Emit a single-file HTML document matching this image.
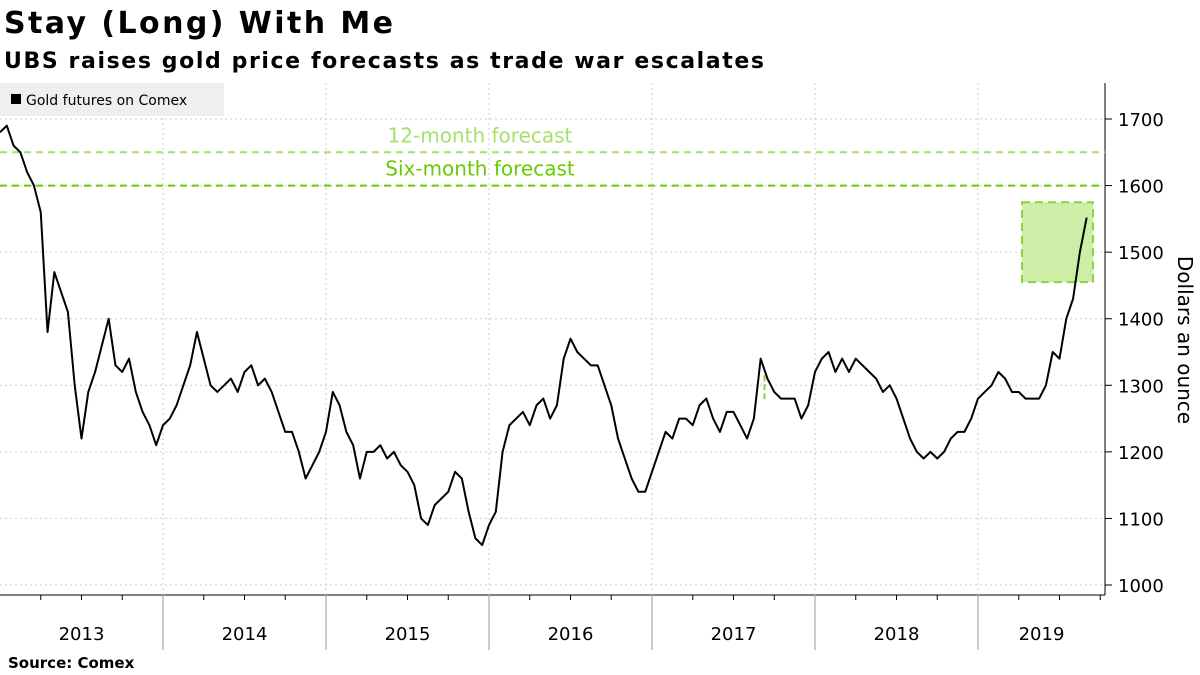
<!DOCTYPE html>
<html><head><meta charset="utf-8"><style>
body{margin:0;background:#fff;width:1200px;height:675px;overflow:hidden}
svg{display:block;font-family:"DejaVu Sans","Liberation Sans",sans-serif}
</style></head><body>
<svg id="chart" width="1200" height="675">
<text x="4" y="33" font-size="30" font-weight="bold" textLength="389">Stay (Long) With Me</text>
<text x="4" y="68" font-size="22" font-weight="bold" textLength="760">UBS raises gold price forecasts as trade war escalates</text>
<g id="grid"></g>
<rect x="0" y="83" width="224" height="33" fill="#efefef"/>
<rect x="11" y="94" width="10" height="10" fill="#000"/>
<text x="26" y="105" font-size="14">Gold futures on Comex</text>
<g id="marks"></g>
<text x="8" y="668" font-size="15" font-weight="bold">Source: Comex</text>
<text transform="translate(1178,340) rotate(90)" text-anchor="middle" font-size="20">Dollars an ounce</text>
</svg>
<script>
const halfMonths=[0,0.0417,0.0833,0.125,0.1667,0.2083,0.25,0.2917,0.3333,0.375,0.4167,0.4583,0.5,0.5417,0.5833,0.625,0.6667,0.7083,0.75,0.7917,0.8333,0.875,0.9167,0.9583];
const p2013=[1680,1690,1660,1650,1620,1600,1560,1380,1470,1440,1410,1300,1220,1290,1320,1360,1400,1330,1320,1340,1290,1260,1240,1210];
const p2014=[1240,1250,1270,1300,1330,1380,1340,1300,1290,1300,1310,1290,1320,1330,1300,1310,1290,1260,1230,1230,1200,1160,1180,1200];
const p2015=[1230,1290,1270,1230,1210,1160,1200,1200,1210,1190,1200,1180,1170,1150,1100,1090,1120,1130,1140,1170,1160,1110,1070,1060];
const p2016=[1090,1110,1200,1240,1250,1260,1240,1270,1280,1250,1270,1340,1370,1350,1340,1330,1330,1300,1270,1220,1190,1160,1140,1140];
const p2017=[1170,1200,1230,1220,1250,1250,1240,1270,1280,1250,1230,1260,1260,1240,1220,1250,1340,1310,1290,1280,1280,1280,1250,1270];
const p2018=[1320,1340,1350,1320,1340,1320,1340,1330,1320,1310,1290,1300,1280,1250,1220,1200,1190,1200,1190,1200,1220,1230,1230,1250];
const p2019=[1280,1290,1300,1320,1310,1290,1290,1280,1280,1280,1300,1350,1340,1400,1430,1500,1552];
const yearPrices=[p2013,p2014,p2015,p2016,p2017,p2018,p2019];
const yTicks=[1000,1100,1200,1300,1400,1500,1600,1700];
const years=[2013,2014,2015,2016,2017,2018,2019];
const forecastValues=[1650,1600];
const forecastLabels=["12-month forecast","Six-month forecast"];
const dates=[],prices=[];
yearPrices.forEach((arr,i)=>arr.forEach((v,k)=>{dates.push(years[i]+halfMonths[k]);prices.push(v);}));
const NS="http://www.w3.org/2000/svg";
const X=d=>(d-2013)*163;
const Y=v=>585-(v-1000)*0.6657;
function mk(tag,attrs,parent){const e=document.createElementNS(NS,tag);for(const k in attrs)e.setAttribute(k,attrs[k]);parent.appendChild(e);return e;}
const grid=document.getElementById('grid'),marks=document.getElementById('marks');
yTicks.forEach(v=>{
 const l=mk('line',{x1:0,x2:1105,y1:Y(v),y2:Y(v),stroke:'#ccc','stroke-dasharray':'2,3'},grid);
 
 
 const t=mk('line',{x1:1105,x2:1112,y1:Y(v),y2:Y(v),stroke:'#000'},grid);
 
 
 const tx=mk('text',{x:1118,y:Y(v)+7,'font-size':18},grid);tx.textContent=v;
 
 
});
const ax=mk('line',{x1:1105,x2:1105,y1:83,y2:595,stroke:'#000'},grid);


const xa=mk('line',{x1:0,x2:1105,y1:595,y2:595,stroke:'#000'},grid);


years.forEach(yr=>{
 if(yr>2013){
  const g=mk('line',{x1:X(yr),x2:X(yr),y1:83,y2:595,stroke:'#ccc','stroke-dasharray':'2,3'},grid);
  
  
  const s=mk('line',{x1:X(yr),x2:X(yr),y1:595,y2:650,stroke:'#999'},grid);
  
  
 }
 for(let q=1;q<4;q++){const tk=mk('line',{x1:X(yr+q/4),x2:X(yr+q/4),y1:595,y2:600,stroke:'#000'},grid);
  
  }
 const end=Math.min(X(yr+1),1105);
 const t=mk('text',{x:(X(yr)+end)/2,y:640,'font-size':18,'text-anchor':'middle'},grid);t.textContent=yr;
 
 
});
const cols=['#a8e06c','#66cc00'];
forecastValues.forEach((v,i)=>{
 const l=mk('line',{x1:0,x2:1105,y1:Y(v),y2:Y(v),stroke:cols[i],'stroke-width':2,'stroke-dasharray':'7,5'},marks);
 
 
 const t=mk('text',{x:480,y:Y(v)-10,'font-size':20,'text-anchor':'middle',fill:cols[i]},marks);t.textContent=forecastLabels[i];
 
 
});
const box=mk('rect',{x:1022,y:Y(1575),width:71,height:Y(1455)-Y(1575),fill:'#cdeea6',stroke:'#8fd13f','stroke-width':2,'stroke-dasharray':'8,5'},marks);


const mark=mk('line',{x1:X(2017.69),x2:X(2017.69),y1:Y(1315),y2:Y(1275),stroke:'#8fd13f','stroke-width':2,'stroke-dasharray':'6,3'},marks);


const p=mk('polyline',{points:dates.map((d,i)=>X(d)+','+Y(prices[i])).join(' '),fill:'none',stroke:'#000','stroke-width':2,'stroke-linejoin':'round'},marks);


</script>
</body></html>
